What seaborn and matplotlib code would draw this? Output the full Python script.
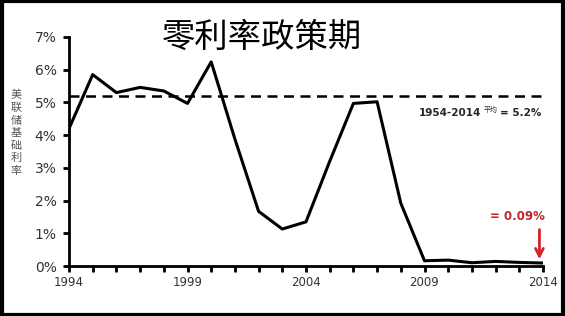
import matplotlib
matplotlib.use("Agg")
import matplotlib.pyplot as plt
import seaborn as sns
import pandas as pd
from matplotlib.patches import Rectangle

years = list(range(1994, 2015))
rates = [4.2, 5.85, 5.3, 5.46, 5.35, 4.97, 6.24, 3.88, 1.67, 1.13, 1.35,
         3.2, 4.97, 5.02, 1.92, 0.16, 0.18, 0.10, 0.14, 0.11, 0.09]
avg_rate = 5.2
last_label = "= 0.09%"
title = "零利率政策期"
ylabel = "美联储基础利率"
xtick_years = [1994, 1999, 2004, 2009, 2014]
ytick_vals = [0, 1, 2, 3, 4, 5, 6, 7]

sns.set_theme(style="white")
plt.rcParams['font.family'] = ['Noto Sans CJK SC', 'DejaVu Sans']

df = pd.DataFrame({"year": years, "rate": rates})

fig = plt.figure(figsize=(5.65, 3.16), dpi=100)
ax = fig.add_axes([69/565, 1-266/316, (543-69)/565, (266-37)/316])
sns.lineplot(data=df, x="year", y="rate", ax=ax, color="black", linewidth=2.2)
ax.axhline(avg_rate, color="black", linestyle=(0, (4, 2.6)), linewidth=1.8)

ax.set_xlim(1994, 2014)
ax.set_ylim(0, 7)
ax.set_xticks(years, minor=False)
ax.set_xticklabels([str(y) if y in xtick_years else "" for y in years],
                   fontsize=8.5, color="#333333", family=["DejaVu Sans"])
ax.set_yticks(ytick_vals)
ax.set_yticklabels([f"{v}%" for v in ytick_vals], fontsize=10, color="#333333",
                   family=["DejaVu Sans"])
ax.tick_params(axis="both", direction="out", length=4, width=2, color="black",
               bottom=True, left=True)
ax.tick_params(axis="x", pad=3)
ax.tick_params(axis="y", pad=5)
for s in ["top", "right"]:
    ax.spines[s].set_visible(False)
for s in ["left", "bottom"]:
    ax.spines[s].set_color("black")
    ax.spines[s].set_linewidth(2)
ax.set_xlabel("")
ax.set_ylabel("")

fig.text(262/565, 1-37/316, title, fontsize=24, ha="center", va="center",
         color="black", fontweight="light")
fig.text(16/565, 1-133/316, "\n".join(ylabel), fontsize=8, ha="center",
         va="center", color="#555555", linespacing=1.3)

ax.text(2008.75, 4.68, "1954-2014", fontsize=7.5, fontweight="bold",
        ha="left", va="center", family=["DejaVu Sans"])
ax.text(2011.5, 4.76, "平均", fontsize=5, ha="left", va="center", color="#333333")
ax.text(2012.2, 4.68, "= 5.2%", fontsize=7.5, fontweight="bold",
        ha="left", va="center", family=["DejaVu Sans"])

ax.text(2011.75, 1.5, last_label, fontsize=8.5, fontweight="bold",
        color="#c0272d", ha="left", va="center", family=["DejaVu Sans"])
ax.annotate("", xy=(2013.85, 0.12), xytext=(2013.85, 1.2),
            arrowprops=dict(arrowstyle="->", color="#d6202a", lw=2,
                            mutation_scale=14))

fig.patches.append(Rectangle((0.003, 0.004), 0.994, 0.992, transform=fig.transFigure,
                             fill=False, edgecolor="black", linewidth=3))

fig.savefig("out.png", dpi=100)
